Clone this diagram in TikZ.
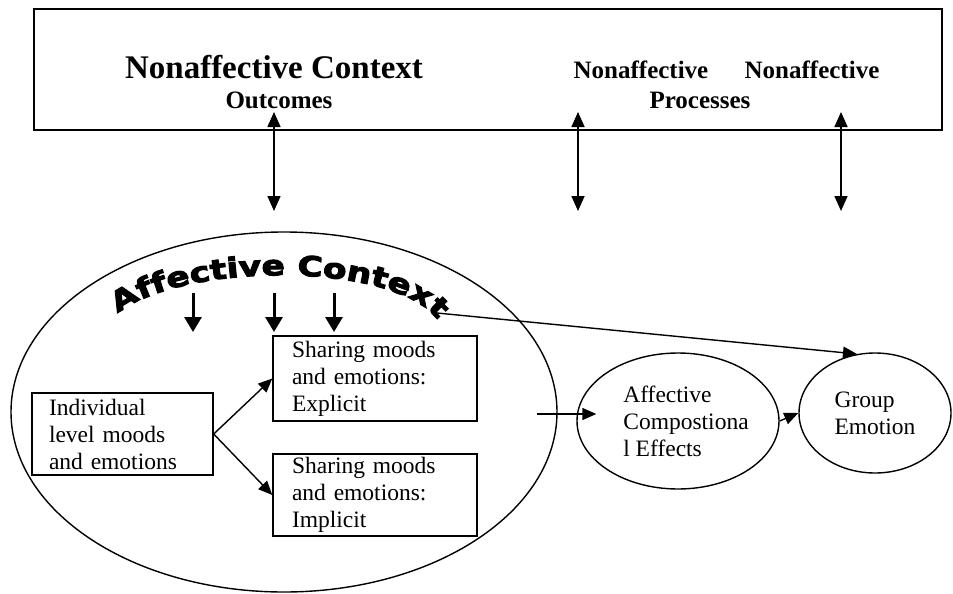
\documentclass[tikz,border=0pt]{standalone}
\usepackage{fontspec}
\setmainfont{Liberation Serif}
\newfontfamily\arcfont{DejaVu Sans}[FakeStretch=1.25, FakeBold=4]
\usetikzlibrary{arrows.meta,shapes.geometric,decorations.text}

\begin{document}
\begin{tikzpicture}[x=1pt,y=-1pt,
   txt/.style={font=\fontsize{23.5}{27}\selectfont, align=left},
   boxnode/.style={draw, line width=1.4pt, txt, inner ysep=0pt},
   ellnode/.style={draw, ellipse, line width=1.4pt, txt, inner sep=0pt},
   toptxt/.style={anchor=base, font=\bfseries\fontsize{25}{25}\selectfont},
   arr/.style={-{Triangle[width=12pt,length=14pt]}, line width=1.4pt},
   dblarr/.style={{Triangle[width=13pt,length=15pt]}-{Triangle[width=13pt,length=15pt]}, line width=1.6pt},
   thickarr/.style={-{Triangle[width=17pt,length=15pt]}, line width=3pt}]
   \useasboundingbox (0,0) rectangle (953,594);
   % nonaffective context
   \node[draw, line width=2.8pt, minimum width=908pt, minimum height=121pt, inner sep=0pt] (nonaff) at (488,69.5) {};
   \node[anchor=base, font=\bfseries\fontsize{33}{33}\selectfont] (nactx) at (274,78) {Nonaffective Context};
   \node[toptxt] (outc) at (279,108) {Outcomes};
   \node[toptxt] (naproc) at (641,78) {Nonaffective};
   \node[toptxt] (naout) at (812,78) {Nonaffective};
   \node[toptxt] (proc) at (700,108) {Processes};
   \foreach \x [count=\i] in {274,578,841} {
      \coordinate (up\i) at (\x,112);
      \coordinate (dn\i) at (\x,211);
      \draw[dblarr] (up\i) -- (dn\i);
   }
   % affective context
   \node[draw, ellipse, line width=1.4pt, minimum width=546pt, minimum height=360pt, inner sep=0pt] (affctx) at (284,412) {};
   \path[decorate, decoration={text along path, text align=center,
      text={|\arcfont\bfseries\fontsize{27.5}{27.5}\selectfont|Affective Context}}]
      (120,312) .. controls (187,262) and (390,262) .. (436,318);
   \coordinate (ctxend) at (437,313);
   \foreach \x [count=\i] in {193,274,334} {
      \coordinate (dtop\i) at (\x,293);
      \coordinate (dtip\i) at (\x,332);
      \draw[thickarr] (dtop\i) -- (dtip\i);
   }
   \node[boxnode, text width=147pt, inner xsep=17pt, minimum height=82pt] (indiv) at (122.5,434) {Individual\\level moods\\and emotions};
   \node[boxnode, text width=166pt, inner xsep=19pt, minimum height=85pt] (expl) at (375,378.5) {Sharing moods\\and emotions:\\Explicit};
   \node[boxnode, text width=166pt, inner xsep=19pt, minimum height=82pt] (impl) at (375,495) {Sharing moods\\and emotions:\\Implicit};
   \draw[arr] (indiv.east) -- (expl.west);
   \draw[arr] (indiv.east) -- (impl.west);
   % effects and group emotion
   \node[ellnode, minimum width=202pt, minimum height=136pt] (comp) at (678,421) {\hspace*{16pt}Affective\\\hspace*{16pt}Compostiona\\\hspace*{16pt}l Effects};
   \node[ellnode, minimum width=152pt, minimum height=120pt] (group) at (875,413) {Group\\Emotion};
   \coordinate (intail) at (537,414);
   \draw[arr] (intail) -- ([xshift=20pt]comp.west |- intail);
   \draw[arr] (comp.east) -- (group.west);
   \draw[arr] (ctxend) -- (group.107);
\end{tikzpicture}
\end{document}
